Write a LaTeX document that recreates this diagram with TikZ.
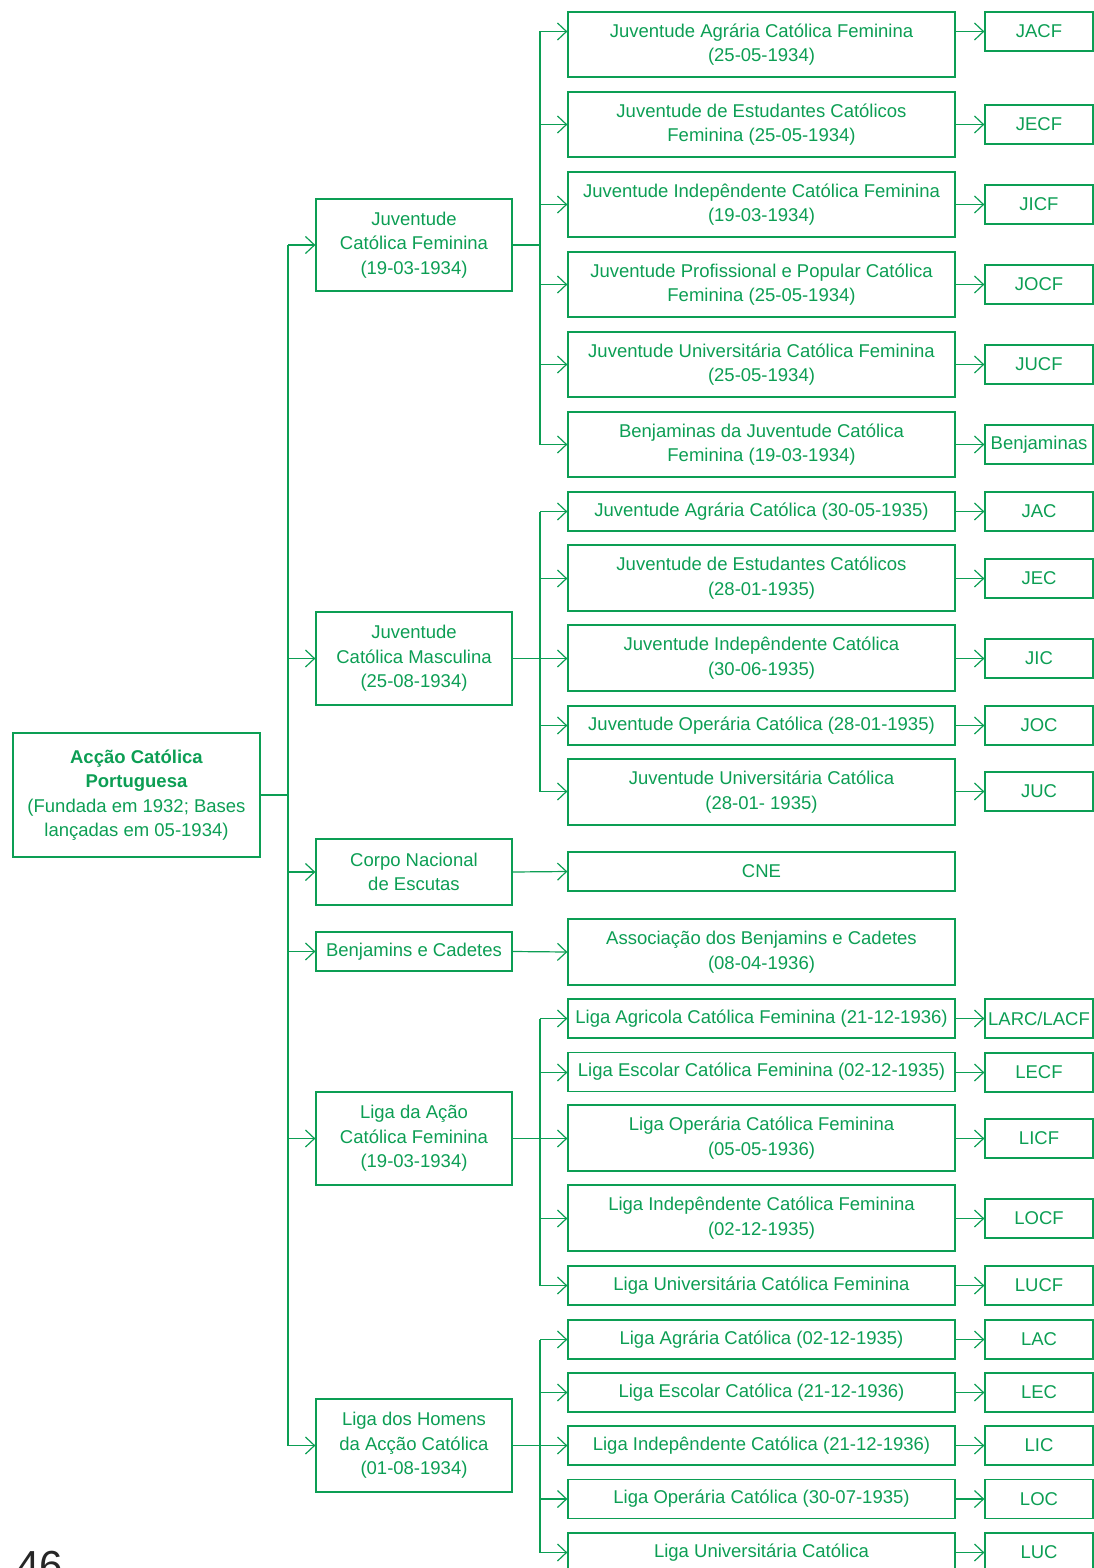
\documentclass[tikz,border=0pt]{standalone}
\usepackage{fontspec}
\setmainfont{Liberation Sans}
\usetikzlibrary{arrows.meta}
\definecolor{cg}{RGB}{12,158,84}
\tikzset{
  box/.style={draw=cg, line width=1.3pt, text=cg, align=center, inner sep=0pt,
    font=\fontsize{18.5}{24.5}\selectfont},
  lone/.style={box, minimum width=196pt},
  ltwo/.style={box, minimum width=387pt},
  abbr/.style={box, minimum width=108pt, minimum height=39pt},
  conn/.style={draw=cg, line width=1.2pt},
  arr/.style={conn, -{Straight Barb[length=9pt,width=17pt]}}
}
\begin{document}
\begin{tikzpicture}[x=1pt,y=-1pt]
\useasboundingbox (0,0) rectangle (1094,1568);
% root
\node[box, minimum width=247pt, minimum height=124pt] (root) at (136.5,795)
  {\textbf{Acção Católica}\\\textbf{Portuguesa}\\(Fundada em 1932; Bases\\lançadas em 05-1934)};
% level 1
\node[lone, minimum height=92pt] (jcf) at (414,245) {Juventude\\Católica Feminina\\(19-03-1934)};
\node[lone, minimum height=93pt] (jcm) at (414,658.5) {Juventude\\Católica Masculina\\(25-08-1934)};
\node[lone, minimum height=66pt] (cnp) at (414,872) {Corpo Nacional\\de Escutas};
\node[lone, minimum height=39pt] (bc) at (414,951.5) {Benjamins e Cadetes};
\node[lone, minimum height=93pt] (lacf) at (414,1138.5) {Liga da Ação\\Católica Feminina\\(19-03-1934)};
\node[lone, minimum height=93pt] (lhac) at (414,1445.5) {Liga dos Homens\\da Acção Católica\\(01-08-1934)};
% trunk
\coordinate (t0) at (288,795);
\draw[conn] (root.east) -- (t0);
\draw[conn] (t0 |- jcf.west) -- (t0 |- lhac.west);
\foreach \n in {jcf,jcm,cnp,bc,lacf,lhac}{
  \draw[arr] (t0 |- \n.west) -- (\n.west);
}
% level 2 groups
\foreach \nm/\y/\h/\t/\ay/\at in {
  a1/44.5/65/{Juventude Agrária Católica Feminina\\(25-05-1934)}/31.5/JACF,
  a2/124.5/65/{Juventude de Estudantes Católicos\\Feminina (25-05-1934)}/124.5/JECF,
  a3/204.5/65/{Juventude Indepêndente Católica Feminina\\(19-03-1934)}/204.5/JICF,
  a4/284.5/65/{Juventude Profissional e Popular Católica\\Feminina (25-05-1934)}/284.5/JOCF,
  a5/364.5/65/{Juventude Universitária Católica Feminina\\(25-05-1934)}/364.5/JUCF,
  a6/444.5/65/{Benjaminas da Juventude Católica\\Feminina (19-03-1934)}/444.5/Benjaminas,
  b1/511.5/39/{Juventude Agrária Católica (30-05-1935)}/511.5/JAC,
  b2/578/66/{Juventude de Estudantes Católicos\\(28-01-1935)}/578.5/JEC,
  b3/658/66/{Juventude Indepêndente Católica\\(30-06-1935)}/658.5/JIC,
  b4/725.5/39/{Juventude Operária Católica (28-01-1935)}/725.5/JOC,
  b5/792/66/{Juventude Universitária Católica\\(28-01- 1935)}/791.5/JUC,
  d1/1018.5/39/{Liga Agricola Católica Feminina (21-12-1936)}/1018.5/LARC\slash LACF,
  d2/1072/39/{Liga Escolar Católica Feminina (02-12-1935)}/1072.5/LECF,
  d3/1138/66/{Liga Operária Católica Feminina\\(05-05-1936)}/1138.5/LICF,
  d4/1218/66/{Liga Indepêndente Católica Feminina\\(02-12-1935)}/1218.5/LOCF,
  d5/1285.5/39/{Liga Universitária Católica Feminina}/1285.5/LUCF,
  e1/1339.5/39/{Liga Agrária Católica (02-12-1935)}/1339.5/LAC,
  e2/1392.5/39/{Liga Escolar Católica (21-12-1936)}/1392.5/LEC,
  e3/1445.5/39/{Liga Indepêndente Católica (21-12-1936)}/1445.5/LIC,
  e4/1499/39/{Liga Operária Católica (30-07-1935)}/1499/LOC,
  e5/1552.5/39/{Liga Universitária Católica}/1552.5/LUC}{
  \node[ltwo, minimum height=\h pt] (\nm) at (761.5,\y) {\t};
  \node[abbr] (\nm x) at (1039,\ay) {\at};
  \draw[arr] (\nm.east |- \nm x.west) -- (\nm x.west);
}
\node[ltwo, minimum height=39pt] (c1) at (761.5,871.5) {CNE};
\node[ltwo, minimum height=66pt] (c2) at (761.5,952) {Associação dos Benjamins e Cadetes\\(08-04-1936)};
\draw[arr] (cnp.east) -- (c1.west);
\draw[arr] (bc.east) -- (c2.west);
% group junctions
\coordinate (ga) at (540,245);
\coordinate (gb) at (540,658.5);
\coordinate (gd) at (540,1138.5);
\coordinate (ge) at (540,1445.5);
\draw[conn] (jcf.east) -- (ga);
\draw[conn] (jcm.east) -- (gb);
\draw[conn] (lacf.east) -- (gd);
\draw[conn] (lhac.east) -- (ge);
\draw[conn] (ga |- a1x.west) -- (ga |- a6x.west);
\draw[conn] (gb |- b1x.west) -- (gb |- b5x.west);
\draw[conn] (gd |- d1x.west) -- (gd |- d5x.west);
\draw[conn] (ge |- e1x.west) -- (ge |- e5x.west);
\foreach \g/\l in {ga/a1,ga/a2,ga/a3,ga/a4,ga/a5,ga/a6,gb/b1,gb/b2,gb/b3,gb/b4,gb/b5,gd/d1,gd/d2,gd/d3,gd/d4,gd/d5,ge/e1,ge/e2,ge/e3,ge/e4,ge/e5}{
  \draw[arr] (\g |- \l x.west) -- (\l.west |- \l x.west);
}
% page number (cut off)
\node[anchor=north west, inner sep=0pt, text=black!85, font=\fontsize{42}{42}\selectfont] (pg) at (16,1551) {46};
\end{tikzpicture}
\end{document}
